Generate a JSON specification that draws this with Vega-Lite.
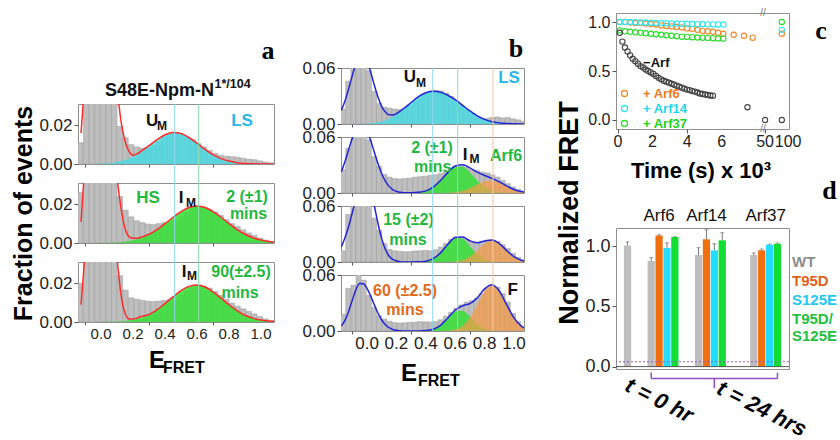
{
"$schema":"https://vega.github.io/schema/vega-lite/v6.json",
"background":"white",
"padding":{"left":11,"top":7,"right":0,"bottom":0},
"autosize":{"type":"pad"},
"config":{"font":"Liberation Sans","view":{"stroke":"#8f8f8f","strokeWidth":1},"axis":{"grid":false,"domain":false,"labelColor":"#222","tickColor":"#555","labelPadding":2,"titleColor":"#000"}},
"datasets":{
"hist":[
{"x0":-0.18,"x1":-0.145,"a1":0,"a2":0,"a3":0,"b1":0.016,"b2":0.025,"b3":0.012,"b4":0.018},
{"x0":-0.145,"x1":-0.11,"a1":0.011,"a2":0.026,"a3":0.02,"b1":0.046,"b2":0.048,"b3":0.051,"b4":0.0455},
{"x0":-0.11,"x1":-0.075,"a1":0.045,"a2":0.05,"a3":0.05,"b1":0.07,"b2":0.07,"b3":0.075,"b4":0.049},
{"x0":-0.075,"x1":-0.04,"a1":0.07,"a2":0.08,"a3":0.08,"b1":0.08,"b2":0.085,"b3":0.09,"b4":0.062},
{"x0":-0.04,"x1":-0.005,"a1":0.08,"a2":0.09,"a3":0.09,"b1":0.075,"b2":0.08,"b3":0.095,"b4":0.0545},
{"x0":-0.005,"x1":0.03,"a1":0.075,"a2":0.085,"a3":0.08,"b1":0.057,"b2":0.057,"b3":0.085,"b4":0.038},
{"x0":0.03,"x1":0.065,"a1":0.06,"a2":0.06,"a3":0.06,"b1":0.035,"b2":0.039,"b3":0.047,"b4":0.0254},
{"x0":0.065,"x1":0.1,"a1":0.04,"a2":0.04,"a3":0.04,"b1":0.022,"b2":0.0285,"b3":0.034,"b4":0.0164},
{"x0":0.1,"x1":0.135,"a1":0.0195,"a2":0.024,"a3":0.024,"b1":0.018,"b2":0.02,"b3":0.02,"b4":0.0128},
{"x0":0.135,"x1":0.17,"a1":0.0135,"a2":0.017,"a3":0.0165,"b1":0.017,"b2":0.017,"b3":0.0135,"b4":0.0105},
{"x0":0.17,"x1":0.205,"a1":0.01,"a2":0.0135,"a3":0.0125,"b1":0.016,"b2":0.0155,"b3":0.012,"b4":0.009},
{"x0":0.205,"x1":0.24,"a1":0.0088,"a2":0.0115,"a3":0.0118,"b1":0.0155,"b2":0.015,"b3":0.0115,"b4":0.0085},
{"x0":0.24,"x1":0.275,"a1":0.0082,"a2":0.0105,"a3":0.0112,"b1":0.017,"b2":0.0155,"b3":0.011,"b4":0.0088},
{"x0":0.275,"x1":0.31,"a1":0.0085,"a2":0.0098,"a3":0.0108,"b1":0.02,"b2":0.016,"b3":0.0112,"b4":0.0092},
{"x0":0.31,"x1":0.345,"a1":0.0095,"a2":0.0095,"a3":0.0106,"b1":0.024,"b2":0.017,"b3":0.0118,"b4":0.0095},
{"x0":0.345,"x1":0.38,"a1":0.0115,"a2":0.01,"a3":0.0108,"b1":0.028,"b2":0.0175,"b3":0.012,"b4":0.01},
{"x0":0.38,"x1":0.415,"a1":0.014,"a2":0.0105,"a3":0.0112,"b1":0.032,"b2":0.018,"b3":0.0125,"b4":0.0098},
{"x0":0.415,"x1":0.45,"a1":0.0155,"a2":0.0112,"a3":0.0118,"b1":0.0345,"b2":0.019,"b3":0.012,"b4":0.0095},
{"x0":0.45,"x1":0.485,"a1":0.0158,"a2":0.012,"a3":0.0125,"b1":0.036,"b2":0.0195,"b3":0.013,"b4":0.01},
{"x0":0.485,"x1":0.52,"a1":0.015,"a2":0.0135,"a3":0.014,"b1":0.0355,"b2":0.021,"b3":0.016,"b4":0.012},
{"x0":0.52,"x1":0.555,"a1":0.0138,"a2":0.016,"a3":0.016,"b1":0.033,"b2":0.023,"b3":0.02,"b4":0.016},
{"x0":0.555,"x1":0.59,"a1":0.0125,"a2":0.0178,"a3":0.0178,"b1":0.0295,"b2":0.0265,"b3":0.024,"b4":0.02},
{"x0":0.59,"x1":0.625,"a1":0.0105,"a2":0.0185,"a3":0.0188,"b1":0.025,"b2":0.0285,"b3":0.027,"b4":0.0245},
{"x0":0.625,"x1":0.66,"a1":0.0088,"a2":0.0185,"a3":0.0185,"b1":0.02,"b2":0.029,"b3":0.0265,"b4":0.028},
{"x0":0.66,"x1":0.695,"a1":0.007,"a2":0.0175,"a3":0.0175,"b1":0.0155,"b2":0.0275,"b3":0.024,"b4":0.031},
{"x0":0.695,"x1":0.73,"a1":0.0055,"a2":0.016,"a3":0.0158,"b1":0.011,"b2":0.025,"b3":0.0215,"b4":0.0325},
{"x0":0.73,"x1":0.765,"a1":0.0045,"a2":0.0142,"a3":0.0138,"b1":0.0075,"b2":0.024,"b3":0.021,"b4":0.035},
{"x0":0.765,"x1":0.8,"a1":0.004,"a2":0.012,"a3":0.0118,"b1":0.005,"b2":0.0225,"b3":0.022,"b4":0.04},
{"x0":0.8,"x1":0.835,"a1":0.0038,"a2":0.01,"a3":0.0098,"b1":0.006,"b2":0.0215,"b3":0.0235,"b4":0.046},
{"x0":0.835,"x1":0.87,"a1":0.0035,"a2":0.0085,"a3":0.0082,"b1":0.007,"b2":0.0195,"b3":0.0235,"b4":0.049},
{"x0":0.87,"x1":0.905,"a1":0.003,"a2":0.0068,"a3":0.0068,"b1":0.0075,"b2":0.017,"b3":0.022,"b4":0.047},
{"x0":0.905,"x1":0.94,"a1":0.0025,"a2":0.0052,"a3":0.0055,"b1":0.0065,"b2":0.0135,"b3":0.0185,"b4":0.04},
{"x0":0.94,"x1":0.975,"a1":0.0022,"a2":0.004,"a3":0.0042,"b1":0.007,"b2":0.01,"b3":0.0145,"b4":0.031},
{"x0":0.975,"x1":1.01,"a1":0.0016,"a2":0.0026,"a3":0.0028,"b1":0.0055,"b2":0.0065,"b3":0.0095,"b4":0.019},
{"x0":1.01,"x1":1.045,"a1":0.001,"a2":0.0015,"a3":0.0016,"b1":0.0045,"b2":0.004,"b3":0.005,"b4":0.01},
{"x0":1.045,"x1":1.08,"a1":0.0006,"a2":0.0008,"a3":0.0008,"b1":0.003,"b2":0.002,"b3":0.002,"b4":0.004}
],
"fit":[
{"x":-0.175,"ra1":null,"ca1":0,"ra2":null,"ga2":0,"ra3":null,"ga3":0,"bb1":0.0145,"cb1":0,"bb2":0.0226,"gb2":0,"ob2":0,"bb3":0.016,"gb3":0,"ob3":0,"bb4":0.0053,"gb4":0,"ob4":0},
{"x":-0.15,"ra1":null,"ca1":0,"ra2":null,"ga2":0,"ra3":null,"ga3":0,"bb1":0.0246,"cb1":0,"bb2":0.0337,"gb2":0,"ob2":0,"bb3":0.026,"gb3":0,"ob3":0,"bb4":0.0114,"gb4":0,"ob4":0},
{"x":-0.125,"ra1":0.016,"ca1":0,"ra2":0.011,"ga2":0,"ra3":0.009,"ga3":0,"bb1":0.0377,"cb1":0,"bb2":0.0463,"gb2":0,"ob2":0,"bb3":0.038,"gb3":0,"ob3":0,"bb4":0.021,"gb4":0,"ob4":0},
{"x":-0.1,"ra1":0.045,"ca1":0,"ra2":0.042,"ga2":0,"ra3":0.036,"ga3":0,"bb1":0.052,"cb1":0,"bb2":0.0586,"gb2":0,"ob2":0,"bb3":0.053,"gb3":0,"ob3":0,"bb4":0.0332,"gb4":0,"ob4":0},
{"x":-0.075,"ra1":0.075,"ca1":0,"ra2":0.08,"ga2":0,"ra3":0.07,"ga3":0,"bb1":0.0648,"cb1":0,"bb2":0.0684,"gb2":0,"ob2":0,"bb3":0.068,"gb3":0,"ob3":0,"bb4":0.0445,"gb4":0,"ob4":0},
{"x":-0.05,"ra1":0.09,"ca1":0,"ra2":0.1,"ga2":0,"ra3":0.09,"ga3":0,"bb1":0.0726,"cb1":0.0001,"bb2":0.0736,"gb2":0,"ob2":0,"bb3":0.084,"gb3":0,"ob3":0,"bb4":0.051,"gb4":0,"ob4":0},
{"x":-0.025,"ra1":0.1,"ca1":0.0001,"ra2":0.12,"ga2":0,"ra3":0.1,"ga3":0,"bb1":0.0734,"cb1":0.0002,"bb2":0.073,"gb2":0,"ob2":0,"bb3":0.093,"gb3":0,"ob3":0,"bb4":0.0506,"gb4":0,"ob4":0},
{"x":0,"ra1":0.1,"ca1":0.0002,"ra2":0.12,"ga2":0.0001,"ra3":0.1,"ga3":0,"bb1":0.0673,"cb1":0.0005,"bb2":0.0668,"gb2":0,"ob2":0,"bb3":0.09,"gb3":0,"ob3":0,"bb4":0.0456,"gb4":0,"ob4":0},
{"x":0.025,"ra1":0.095,"ca1":0.0003,"ra2":0.1,"ga2":0.0001,"ra3":0.09,"ga3":0.0001,"bb1":0.0555,"cb1":0.0007,"bb2":0.0563,"gb2":0,"ob2":0,"bb3":0.078,"gb3":0,"ob3":0,"bb4":0.0374,"gb4":0,"ob4":0},
{"x":0.05,"ra1":0.085,"ca1":0.0005,"ra2":0.08,"ga2":0.0001,"ra3":0.075,"ga3":0.0001,"bb1":0.0415,"cb1":0.001,"bb2":0.0437,"gb2":0,"ob2":0,"bb3":0.06,"gb3":0,"ob3":0,"bb4":0.028,"gb4":0,"ob4":0},
{"x":0.075,"ra1":0.065,"ca1":0.0007,"ra2":0.06,"ga2":0.0002,"ra3":0.055,"ga3":0.0001,"bb1":0.0287,"cb1":0.0016,"bb2":0.0313,"gb2":0,"ob2":0,"bb3":0.041,"gb3":0,"ob3":0,"bb4":0.019,"gb4":0,"ob4":0},
{"x":0.1,"ra1":0.04,"ca1":0.001,"ra2":0.034,"ga2":0.0003,"ra3":0.033,"ga3":0.0002,"bb1":0.0187,"cb1":0.0025,"bb2":0.0207,"gb2":0,"ob2":0,"bb3":0.025,"gb3":0,"ob3":0,"bb4":0.0118,"gb4":0,"ob4":0},
{"x":0.125,"ra1":0.022,"ca1":0.0015,"ra2":0.018,"ga2":0.0005,"ra3":0.014,"ga3":0.0003,"bb1":0.0128,"cb1":0.0039,"bb2":0.0126,"gb2":0,"ob2":0,"bb3":0.0134,"gb3":0,"ob3":0,"bb4":0.0067,"gb4":0,"ob4":0},
{"x":0.15,"ra1":0.0118,"ca1":0.0021,"ra2":0.0075,"ga2":0.0007,"ra3":0.0045,"ga3":0.0005,"bb1":0.0098,"cb1":0.0055,"bb2":0.0071,"gb2":0,"ob2":0,"bb3":0.0064,"gb3":0,"ob3":0,"bb4":0.0035,"gb4":0,"ob4":0},
{"x":0.175,"ra1":0.0065,"ca1":0.0029,"ra2":0.0033,"ga2":0.001,"ra3":0.0016,"ga3":0.0008,"bb1":0.0097,"cb1":0.0078,"bb2":0.0037,"gb2":0,"ob2":0,"bb3":0.0027,"gb3":0,"ob3":0,"bb4":0.0016,"gb4":0,"ob4":0},
{"x":0.2,"ra1":0.0045,"ca1":0.0038,"ra2":0.0024,"ga2":0.0014,"ra3":0.0015,"ga3":0.0011,"bb1":0.0112,"cb1":0.0105,"bb2":0.0017,"gb2":0,"ob2":0,"bb3":0.001,"gb3":0,"ob3":0,"bb4":0.0007,"gb4":0,"ob4":0},
{"x":0.225,"ra1":0.0052,"ca1":0.005,"ra2":0.0025,"ga2":0.002,"ra3":0.0021,"ga3":0.0016,"bb1":0.0138,"cb1":0.0135,"bb2":0.0008,"gb2":0,"ob2":0,"bb3":0.0003,"gb3":0,"ob3":0,"bb4":0.0003,"gb4":0,"ob4":0},
{"x":0.25,"ra1":0.0066,"ca1":0.0063,"ra2":0.003,"ga2":0.0026,"ra3":0.0028,"ga3":0.0021,"bb1":0.0166,"cb1":0.0165,"bb2":0.0003,"gb2":0,"ob2":0,"bb3":0.0001,"gb3":0,"ob3":0,"bb4":0.0001,"gb4":0,"ob4":0},
{"x":0.3,"ra1":0.0095,"ca1":0.0094,"ra2":0.0045,"ga2":0.0044,"ra3":0.0039,"ga3":0.0038,"bb1":0.023,"cb1":0.023,"bb2":0.0002,"gb2":0.0002,"ob2":0,"bb3":0.0001,"gb3":0,"ob3":0,"bb4":0.0001,"gb4":0,"ob4":0},
{"x":0.35,"ra1":0.0126,"ca1":0.0125,"ra2":0.0069,"ga2":0.0068,"ra3":0.0064,"ga3":0.0063,"bb1":0.0292,"cb1":0.0292,"bb2":0.0007,"gb2":0.0007,"ob2":0,"bb3":0.0002,"gb3":0.0002,"ob3":0,"bb4":0.0001,"gb4":0.0001,"ob4":0},
{"x":0.4,"ra1":0.0151,"ca1":0.015,"ra2":0.01,"ga2":0.0099,"ra3":0.0096,"ga3":0.0095,"bb1":0.0335,"cb1":0.0335,"bb2":0.0023,"gb2":0.0023,"ob2":0,"bb3":0.0009,"gb3":0.0009,"ob3":0,"bb4":0.0005,"gb4":0.0004,"ob4":0},
{"x":0.45,"ra1":0.0163,"ca1":0.0162,"ra2":0.0133,"ga2":0.0132,"ra3":0.013,"ga3":0.0129,"bb1":0.035,"cb1":0.035,"bb2":0.0063,"gb2":0.0063,"ob2":0,"bb3":0.0036,"gb3":0.0036,"ob3":0,"bb4":0.0019,"gb4":0.0018,"ob4":0},
{"x":0.5,"ra1":0.0158,"ca1":0.0157,"ra2":0.0162,"ga2":0.0161,"ra3":0.0162,"ga3":0.0161,"bb1":0.034,"cb1":0.034,"bb2":0.0133,"gb2":0.0133,"ob2":0,"bb3":0.0098,"gb3":0.0098,"ob3":0,"bb4":0.0061,"gb4":0.006,"ob4":0.0001},
{"x":0.55,"ra1":0.0137,"ca1":0.0136,"ra2":0.0183,"ga2":0.0182,"ra3":0.0184,"ga3":0.0183,"bb1":0.0308,"cb1":0.0308,"bb2":0.0221,"gb2":0.0219,"ob2":0.0002,"bb3":0.019,"gb3":0.0189,"ob3":0.0001,"bb4":0.014,"gb4":0.0137,"ob4":0.0003},
{"x":0.6,"ra1":0.0108,"ca1":0.0107,"ra2":0.0191,"ga2":0.019,"ra3":0.0191,"ga3":0.019,"bb1":0.026,"cb1":0.026,"bb2":0.0289,"gb2":0.0281,"ob2":0.0008,"bb3":0.0263,"gb3":0.0258,"ob3":0.0005,"bb4":0.0225,"gb4":0.021,"ob4":0.0015},
{"x":0.65,"ra1":0.0076,"ca1":0.0075,"ra2":0.0183,"ga2":0.0182,"ra3":0.0181,"ga3":0.018,"bb1":0.02,"cb1":0.02,"bb2":0.0303,"gb2":0.0281,"ob2":0.0022,"bb3":0.0268,"gb3":0.0249,"ob3":0.0019,"bb4":0.0271,"gb4":0.0218,"ob4":0.0053},
{"x":0.7,"ra1":0.0048,"ca1":0.0047,"ra2":0.0162,"ga2":0.0161,"ra3":0.0156,"ga3":0.0155,"bb1":0.014,"cb1":0.014,"bb2":0.027,"gb2":0.0219,"ob2":0.0051,"bb3":0.0227,"gb3":0.017,"ob3":0.0057,"bb4":0.0294,"gb4":0.0153,"ob4":0.0141},
{"x":0.75,"ra1":0.0028,"ca1":0.0027,"ra2":0.0133,"ga2":0.0132,"ra3":0.0123,"ga3":0.0122,"bb1":0.0088,"cb1":0.0088,"bb2":0.0223,"gb2":0.0133,"ob2":0.009,"bb3":0.0206,"gb3":0.0082,"ob3":0.0124,"bb4":0.0355,"gb4":0.0073,"ob4":0.0282},
{"x":0.8,"ra1":0.0015,"ca1":0.0014,"ra2":0.01,"ga2":0.0099,"ra3":0.0089,"ga3":0.0088,"bb1":0.005,"cb1":0.005,"bb2":0.0188,"gb2":0.0063,"ob2":0.0125,"bb3":0.0225,"gb3":0.0028,"ob3":0.0197,"bb4":0.0451,"gb4":0.0024,"ob4":0.0427},
{"x":0.85,"ra1":0.0007,"ca1":0.0006,"ra2":0.0069,"ga2":0.0068,"ra3":0.0059,"ga3":0.0058,"bb1":0.0025,"cb1":0.0025,"bb2":0.0157,"gb2":0.0023,"ob2":0.0134,"bb3":0.0237,"gb3":0.0007,"ob3":0.023,"bb4":0.0495,"gb4":0.0005,"ob4":0.049},
{"x":0.9,"ra1":0.0003,"ca1":0.0003,"ra2":0.0045,"ga2":0.0044,"ra3":0.0035,"ga3":0.0034,"bb1":0.0012,"cb1":0.0012,"bb2":0.012,"gb2":0.0007,"ob2":0.0113,"bb3":0.0198,"gb3":0.0001,"ob3":0.0197,"bb4":0.0428,"gb4":0.0001,"ob4":0.0427},
{"x":0.95,"ra1":0.0001,"ca1":0.0001,"ra2":0.0027,"ga2":0.0026,"ra3":0.002,"ga3":0.0019,"bb1":0.0005,"cb1":0.0005,"bb2":0.0076,"gb2":0.0002,"ob2":0.0074,"bb3":0.0124,"gb3":0,"ob3":0.0124,"bb4":0.0282,"gb4":0,"ob4":0.0282},
{"x":1.0,"ra1":0,"ca1":0,"ra2":0.0015,"ga2":0.0014,"ra3":0.001,"ga3":0.0009,"bb1":0.0002,"cb1":0.0002,"bb2":0.0038,"gb2":0,"ob2":0.0038,"bb3":0.0057,"gb3":0,"ob3":0.0057,"bb4":0.0141,"gb4":0,"ob4":0.0141},
{"x":1.05,"ra1":0,"ca1":0,"ra2":0.0008,"ga2":0.0007,"ra3":0.0005,"ga3":0.0004,"bb1":0,"cb1":0,"bb2":0.0015,"gb2":0,"ob2":0.0015,"bb3":0.0019,"gb3":0,"ob3":0.0019,"bb4":0.0053,"gb4":0,"ob4":0.0053},
{"x":1.1,"ra1":0,"ca1":0,"ra2":0.0004,"ga2":0.0003,"ra3":0.0002,"ga3":0.0002,"bb1":0,"cb1":0,"bb2":0.0005,"gb2":0,"ob2":0.0005,"bb3":0.0005,"gb3":0,"ob3":0.0005,"bb4":0.0015,"gb4":0,"ob4":0.0015}
],
"frap":[
{"s":"+ Arf6","t":0.1,"y":1.0},{"s":"+ Arf6","t":0.4,"y":1.0},{"s":"+ Arf6","t":0.7,"y":0.995},{"s":"+ Arf6","t":1.0,"y":0.99},{"s":"+ Arf6","t":1.3,"y":0.99},{"s":"+ Arf6","t":1.6,"y":0.985},{"s":"+ Arf6","t":1.9,"y":0.98},{"s":"+ Arf6","t":2.2,"y":0.975},{"s":"+ Arf6","t":2.5,"y":0.965},{"s":"+ Arf6","t":2.8,"y":0.96},{"s":"+ Arf6","t":3.1,"y":0.955},{"s":"+ Arf6","t":3.4,"y":0.95},{"s":"+ Arf6","t":3.7,"y":0.945},{"s":"+ Arf6","t":4.0,"y":0.935},{"s":"+ Arf6","t":4.3,"y":0.93},{"s":"+ Arf6","t":4.6,"y":0.92},{"s":"+ Arf6","t":4.9,"y":0.91},{"s":"+ Arf6","t":5.2,"y":0.905},{"s":"+ Arf6","t":5.5,"y":0.9},{"s":"+ Arf6","t":5.8,"y":0.89},{"s":"+ Arf6","t":6.1,"y":0.88},{"s":"+ Arf6","t":6.7,"y":0.87},{"s":"+ Arf6","t":7.3,"y":0.86},{"s":"+ Arf6","t":7.8,"y":0.84},{"s":"+ Arf6","t":86.4,"y":0.88},
{"s":"+ Arf14","t":0.1,"y":1.0},{"s":"+ Arf14","t":0.4,"y":1.0},{"s":"+ Arf14","t":0.7,"y":1.0},{"s":"+ Arf14","t":1.0,"y":0.998},{"s":"+ Arf14","t":1.3,"y":0.996},{"s":"+ Arf14","t":1.6,"y":0.995},{"s":"+ Arf14","t":1.9,"y":0.993},{"s":"+ Arf14","t":2.2,"y":0.99},{"s":"+ Arf14","t":2.5,"y":0.99},{"s":"+ Arf14","t":2.8,"y":0.988},{"s":"+ Arf14","t":3.1,"y":0.986},{"s":"+ Arf14","t":3.4,"y":0.985},{"s":"+ Arf14","t":3.7,"y":0.983},{"s":"+ Arf14","t":4.0,"y":0.982},{"s":"+ Arf14","t":4.3,"y":0.98},{"s":"+ Arf14","t":4.6,"y":0.978},{"s":"+ Arf14","t":4.9,"y":0.977},{"s":"+ Arf14","t":5.2,"y":0.976},{"s":"+ Arf14","t":5.5,"y":0.975},{"s":"+ Arf14","t":5.8,"y":0.975},{"s":"+ Arf14","t":6.1,"y":0.974},{"s":"+ Arf14","t":86.4,"y":0.92},
{"s":"+ Arf37","t":0.1,"y":0.915},{"s":"+ Arf37","t":0.4,"y":0.905},{"s":"+ Arf37","t":0.7,"y":0.9},{"s":"+ Arf37","t":1.0,"y":0.895},{"s":"+ Arf37","t":1.3,"y":0.89},{"s":"+ Arf37","t":1.6,"y":0.885},{"s":"+ Arf37","t":1.9,"y":0.88},{"s":"+ Arf37","t":2.2,"y":0.875},{"s":"+ Arf37","t":2.5,"y":0.87},{"s":"+ Arf37","t":2.8,"y":0.865},{"s":"+ Arf37","t":3.1,"y":0.86},{"s":"+ Arf37","t":3.4,"y":0.855},{"s":"+ Arf37","t":3.7,"y":0.85},{"s":"+ Arf37","t":4.0,"y":0.848},{"s":"+ Arf37","t":4.3,"y":0.845},{"s":"+ Arf37","t":4.6,"y":0.842},{"s":"+ Arf37","t":4.9,"y":0.84},{"s":"+ Arf37","t":5.2,"y":0.838},{"s":"+ Arf37","t":5.5,"y":0.835},{"s":"+ Arf37","t":5.8,"y":0.832},{"s":"+ Arf37","t":6.1,"y":0.83},{"s":"+ Arf37","t":86.4,"y":1.0},
{"s":"-Arf","t":0.1,"y":0.89},{"s":"-Arf","t":0.25,"y":0.8},{"s":"-Arf","t":0.4,"y":0.74},{"s":"-Arf","t":0.55,"y":0.7},{"s":"-Arf","t":0.7,"y":0.66},{"s":"-Arf","t":0.85,"y":0.625},{"s":"-Arf","t":1.0,"y":0.6},{"s":"-Arf","t":1.15,"y":0.575},{"s":"-Arf","t":1.3,"y":0.55},{"s":"-Arf","t":1.45,"y":0.535},{"s":"-Arf","t":1.6,"y":0.515},{"s":"-Arf","t":1.75,"y":0.5},{"s":"-Arf","t":1.9,"y":0.485},{"s":"-Arf","t":2.05,"y":0.47},{"s":"-Arf","t":2.2,"y":0.45},{"s":"-Arf","t":2.35,"y":0.43},{"s":"-Arf","t":2.5,"y":0.415},{"s":"-Arf","t":2.65,"y":0.4},{"s":"-Arf","t":2.8,"y":0.39},{"s":"-Arf","t":2.95,"y":0.38},{"s":"-Arf","t":3.1,"y":0.37},{"s":"-Arf","t":3.25,"y":0.36},{"s":"-Arf","t":3.4,"y":0.35},{"s":"-Arf","t":3.55,"y":0.34},{"s":"-Arf","t":3.7,"y":0.33},{"s":"-Arf","t":3.85,"y":0.32},{"s":"-Arf","t":4.0,"y":0.31},{"s":"-Arf","t":4.15,"y":0.305},{"s":"-Arf","t":4.3,"y":0.295},{"s":"-Arf","t":4.45,"y":0.29},{"s":"-Arf","t":4.6,"y":0.28},{"s":"-Arf","t":4.75,"y":0.27},{"s":"-Arf","t":4.9,"y":0.265},{"s":"-Arf","t":5.05,"y":0.26},{"s":"-Arf","t":5.2,"y":0.255},{"s":"-Arf","t":5.35,"y":0.25},{"s":"-Arf","t":5.5,"y":0.248},{"s":"-Arf","t":7.5,"y":0.13},{"s":"-Arf","t":50,"y":0.0},{"s":"-Arf","t":86.4,"y":0.0}
],
"bars":[
{"slot":"t0 WT","variant":"WT","v":1.005,"hi":1.035},
{"slot":"Arf6 WT","variant":"WT","v":0.876,"hi":0.904},
{"slot":"Arf6 T95D","variant":"T95D","v":1.088,"hi":1.094},
{"slot":"Arf6 S125E","variant":"S125E","v":0.985,"hi":1.027},
{"slot":"Arf6 T95D/S125E","variant":"T95D/S125E","v":1.075,"hi":1.078},
{"slot":"Arf14 WT","variant":"WT","v":0.926,"hi":0.987},
{"slot":"Arf14 T95D","variant":"T95D","v":1.056,"hi":1.136},
{"slot":"Arf14 S125E","variant":"S125E","v":0.965,"hi":1.02},
{"slot":"Arf14 T95D/S125E","variant":"T95D/S125E","v":1.048,"hi":1.111},
{"slot":"Arf37 WT","variant":"WT","v":0.926,"hi":0.943},
{"slot":"Arf37 T95D","variant":"T95D","v":0.965,"hi":0.976},
{"slot":"Arf37 S125E","variant":"S125E","v":1.012,"hi":1.017},
{"slot":"Arf37 T95D/S125E","variant":"T95D/S125E","v":1.02,"hi":1.026}
],
"etick":[{"v":0},{"v":0.2},{"v":0.4},{"v":0.6},{"v":0.8},{"v":1}],
"ttick":[{"v":0},{"v":2},{"v":4},{"v":6},{"v":50},{"v":100}]
},
"bounds":"flush",
"spacing":263,
"hconcat":[
{"bounds":"flush","spacing":21,"vconcat":[
 {"width":196,"height":70,"view":{"stroke":null},"layer":[
  {"data":{"values":[{}]},"mark":{"type":"text","text":"a","font":"Liberation Serif","fontSize":26,"fontWeight":"bold","color":"#000"},"encoding":{"x":{"datum":190,"scale":{"domain":[0,196],"nice":false,"zero":false},"axis":null},"y":{"datum":32,"scale":{"domain":[0,70],"nice":false,"zero":false},"axis":null}}},
  {"data":{"values":[{}]},"mark":{"type":"text","text":"S48E-Npm-N","fontSize":18,"fontWeight":"bold","align":"right","baseline":"alphabetic","color":"#111"},"encoding":{"x":{"datum":136,"axis":null},"y":{"datum":-12.5,"axis":null}}},
  {"data":{"values":[{}]},"mark":{"type":"text","text":"1*/104","fontSize":12.5,"fontWeight":"bold","align":"left","baseline":"alphabetic","color":"#111"},"encoding":{"x":{"datum":136.5,"axis":null},"y":{"datum":-4.5,"axis":null}}}
 ]},
 {"bounds":"flush","spacing":19,"vconcat":[
  {"width":196,"height":60,"layer":[
   {"data":{"name":"hist"},"mark":{"type":"rect","clip":true,"fill":"#bebebe","stroke":"#9a9a9a","strokeWidth":0.5},"encoding":{"x":{"field":"x0","type":"quantitative","scale":{"domain":[-0.144,1.081],"nice":false,"zero":false},"axis":{"title":null,"values":[-0.1,0,0.1,0.2,0.3,0.4,0.5,0.6,0.7,0.8,0.9,1],"labels":false,"tickSize":3}},"x2":{"field":"x1"},"y":{"field":"a1","type":"quantitative","scale":{"domain":[0,0.031],"nice":false,"zero":false},"axis":{"title":null,"values":[0,0.02],"format":".2f","labelFontSize":17,"tickSize":4}},"y2":{"datum":0}}},
   {"data":{"name":"fit"},"mark":{"type":"area","clip":true,"color":"#45dbe3","opacity":0.8,"interpolate":"monotone"},"encoding":{"x":{"field":"x","type":"quantitative"},"y":{"field":"ca1","type":"quantitative"}}},
   {"data":{"name":"fit"},"mark":{"type":"line","clip":true,"color":"#ff2b2b","strokeWidth":1.5,"interpolate":"monotone"},"encoding":{"x":{"field":"x","type":"quantitative"},"y":{"field":"ra1","type":"quantitative"}}},
   {"data":{"values":[{}]},"mark":{"type":"text","text":"U","fontSize":17,"fontWeight":"bold","color":"#111"},"encoding":{"x":{"datum":0.319},"y":{"datum":0.022}}},
   {"data":{"values":[{}]},"mark":{"type":"text","text":"M","fontSize":12,"fontWeight":"bold","color":"#111"},"encoding":{"x":{"datum":0.381},"y":{"datum":0.0194}}},
   {"data":{"values":[{}]},"mark":{"type":"text","text":"LS","fontSize":17,"fontWeight":"bold","color":"#29b6e8"},"encoding":{"x":{"datum":0.881},"y":{"datum":0.022}}}
  ]},
  {"width":196,"height":60,"layer":[
   {"data":{"name":"hist"},"mark":{"type":"rect","clip":true,"fill":"#bebebe","stroke":"#9a9a9a","strokeWidth":0.5},"encoding":{"x":{"field":"x0","type":"quantitative","scale":{"domain":[-0.144,1.081],"nice":false,"zero":false},"axis":{"title":null,"values":[-0.1,0,0.1,0.2,0.3,0.4,0.5,0.6,0.7,0.8,0.9,1],"labels":false,"tickSize":3}},"x2":{"field":"x1"},"y":{"field":"a2","type":"quantitative","scale":{"domain":[0,0.031],"nice":false,"zero":false},"axis":{"title":"Fraction of events","titleFontSize":25,"titleFontWeight":"bold","titlePadding":2,"values":[0,0.02],"format":".2f","labelFontSize":17,"tickSize":4}},"y2":{"datum":0}}},
   {"data":{"name":"fit"},"mark":{"type":"area","clip":true,"color":"#35e035","opacity":0.85,"interpolate":"monotone"},"encoding":{"x":{"field":"x","type":"quantitative"},"y":{"field":"ga2","type":"quantitative"}}},
   {"data":{"name":"fit"},"mark":{"type":"line","clip":true,"color":"#ff2b2b","strokeWidth":1.5,"interpolate":"monotone"},"encoding":{"x":{"field":"x","type":"quantitative"},"y":{"field":"ra2","type":"quantitative"}}},
   {"data":{"values":[{}]},"mark":{"type":"text","text":"HS","fontSize":17,"fontWeight":"bold","color":"#1fb83f"},"encoding":{"x":{"datum":0.294},"y":{"datum":0.023}}},
   {"data":{"values":[{}]},"mark":{"type":"text","text":"I","fontSize":17,"fontWeight":"bold","color":"#111"},"encoding":{"x":{"datum":0.5},"y":{"datum":0.023}}},
   {"data":{"values":[{}]},"mark":{"type":"text","text":"M","fontSize":12,"fontWeight":"bold","color":"#111"},"encoding":{"x":{"datum":0.5625},"y":{"datum":0.0207}}},
   {"data":{"values":[{}]},"mark":{"type":"text","text":"2 (±1)","fontSize":16,"fontWeight":"bold","color":"#1fb83f"},"encoding":{"x":{"datum":0.9125},"y":{"datum":0.0238}}},
   {"data":{"values":[{}]},"mark":{"type":"text","text":"mins","fontSize":16,"fontWeight":"bold","color":"#1fb83f"},"encoding":{"x":{"datum":0.922},"y":{"datum":0.015}}}
  ]},
  {"width":196,"height":60,"layer":[
   {"data":{"name":"hist"},"mark":{"type":"rect","clip":true,"fill":"#bebebe","stroke":"#9a9a9a","strokeWidth":0.5},"encoding":{"x":{"field":"x0","type":"quantitative","scale":{"domain":[-0.144,1.081],"nice":false,"zero":false},"axis":{"title":null,"values":[-0.1,0,0.1,0.2,0.3,0.4,0.5,0.6,0.7,0.8,0.9,1],"labels":false,"tickSize":3}},"x2":{"field":"x1"},"y":{"field":"a3","type":"quantitative","scale":{"domain":[0,0.031],"nice":false,"zero":false},"axis":{"title":null,"values":[0,0.02],"format":".2f","labelFontSize":17,"tickSize":4}},"y2":{"datum":0}}},
   {"data":{"name":"fit"},"mark":{"type":"area","clip":true,"color":"#35e035","opacity":0.85,"interpolate":"monotone"},"encoding":{"x":{"field":"x","type":"quantitative"},"y":{"field":"ga3","type":"quantitative"}}},
   {"data":{"name":"fit"},"mark":{"type":"line","clip":true,"color":"#ff2b2b","strokeWidth":1.5,"interpolate":"monotone"},"encoding":{"x":{"field":"x","type":"quantitative"},"y":{"field":"ra3","type":"quantitative"}}},
   {"data":{"name":"etick"},"mark":{"type":"text","fontSize":15,"color":"#222","baseline":"top","dy":5},"encoding":{"x":{"field":"v","type":"quantitative"},"y":{"datum":0},"text":{"field":"v","type":"quantitative","format":".1f"}}},
   {"data":{"values":[{}]},"mark":{"type":"text","text":"I","fontSize":17,"fontWeight":"bold","color":"#111"},"encoding":{"x":{"datum":0.519},"y":{"datum":0.0258}}},
   {"data":{"values":[{}]},"mark":{"type":"text","text":"M","fontSize":12,"fontWeight":"bold","color":"#111"},"encoding":{"x":{"datum":0.569},"y":{"datum":0.0236}}},
   {"data":{"values":[{}]},"mark":{"type":"text","text":"90(±2.5)","fontSize":16,"fontWeight":"bold","color":"#1fb83f"},"encoding":{"x":{"datum":0.875},"y":{"datum":0.0256}}},
   {"data":{"values":[{}]},"mark":{"type":"text","text":"mins","fontSize":16,"fontWeight":"bold","color":"#1fb83f"},"encoding":{"x":{"datum":0.869},"y":{"datum":0.0152}}},
   {"data":{"values":[{}]},"mark":{"type":"rule","color":"#8fd8f0","strokeWidth":1},"encoding":{"x":{"datum":0.46},"y":{"datum":0},"y2":{"datum":0.1126}}},
   {"data":{"values":[{}]},"mark":{"type":"rule","color":"#8fdcae","strokeWidth":1},"encoding":{"x":{"datum":0.61},"y":{"datum":0},"y2":{"datum":0.1126}}},
   {"data":{"values":[{}]},"mark":{"type":"text","text":"E","fontSize":24,"fontWeight":"bold","align":"left","baseline":"alphabetic","dy":46,"color":"#000"},"encoding":{"x":{"datum":0.3},"y":{"datum":0}}},
   {"data":{"values":[{}]},"mark":{"type":"text","text":"FRET","fontSize":16,"fontWeight":"bold","align":"left","baseline":"alphabetic","dy":51,"color":"#000"},"encoding":{"x":{"datum":0.3875},"y":{"datum":0}}}
  ]}
 ]}
]},
{"bounds":"flush","spacing":275,"hconcat":[
 {"bounds":"flush","spacing":15,"vconcat":[
  {"width":183,"height":40,"view":{"stroke":null},"layer":[
   {"data":{"values":[{}]},"mark":{"type":"text","text":"b","font":"Liberation Serif","fontSize":26,"fontWeight":"bold","color":"#000"},"encoding":{"x":{"datum":175,"scale":{"domain":[0,183],"nice":false,"zero":false},"axis":null},"y":{"datum":4,"scale":{"domain":[0,40],"nice":false,"zero":false},"axis":null}}}
  ]},
  {"bounds":"flush","spacing":13,"vconcat":[
   {"width":183,"height":56,"layer":[
    {"data":{"name":"hist"},"mark":{"type":"rect","clip":true,"fill":"#bebebe","stroke":"#9a9a9a","strokeWidth":0.5},"encoding":{"x":{"field":"x0","type":"quantitative","scale":{"domain":[-0.177,1.068],"nice":false,"zero":false},"axis":{"title":null,"values":[-0.1,0,0.1,0.2,0.3,0.4,0.5,0.6,0.7,0.8,0.9,1],"labels":false,"tickSize":3}},"x2":{"field":"x1"},"y":{"field":"b1","type":"quantitative","scale":{"domain":[0,0.06],"nice":false,"zero":false},"axis":{"title":null,"values":[0,0.06],"format":".2f","labelFontSize":17,"tickSize":4}},"y2":{"datum":0}}},
    {"data":{"name":"fit"},"mark":{"type":"area","clip":true,"color":"#45dbe3","opacity":0.8,"interpolate":"monotone"},"encoding":{"x":{"field":"x","type":"quantitative"},"y":{"field":"cb1","type":"quantitative"}}},
    {"data":{"name":"fit"},"mark":{"type":"line","clip":true,"color":"#2424d8","strokeWidth":1.5,"interpolate":"monotone"},"encoding":{"x":{"field":"x","type":"quantitative"},"y":{"field":"bb1","type":"quantitative"}}},
    {"data":{"values":[{}]},"mark":{"type":"text","text":"U","fontSize":17,"fontWeight":"bold","color":"#111"},"encoding":{"x":{"datum":0.2925},"y":{"datum":0.0504}}},
    {"data":{"values":[{}]},"mark":{"type":"text","text":"M","fontSize":12,"fontWeight":"bold","color":"#111"},"encoding":{"x":{"datum":0.367},"y":{"datum":0.0439}}},
    {"data":{"values":[{}]},"mark":{"type":"text","text":"LS","fontSize":17,"fontWeight":"bold","color":"#29b6e8"},"encoding":{"x":{"datum":0.966},"y":{"datum":0.0498}}}
   ]},
   {"width":183,"height":56,"layer":[
    {"data":{"name":"hist"},"mark":{"type":"rect","clip":true,"fill":"#bebebe","stroke":"#9a9a9a","strokeWidth":0.5},"encoding":{"x":{"field":"x0","type":"quantitative","scale":{"domain":[-0.177,1.068],"nice":false,"zero":false},"axis":{"title":null,"values":[-0.1,0,0.1,0.2,0.3,0.4,0.5,0.6,0.7,0.8,0.9,1],"labels":false,"tickSize":3}},"x2":{"field":"x1"},"y":{"field":"b2","type":"quantitative","scale":{"domain":[0,0.06],"nice":false,"zero":false},"axis":{"title":null,"values":[0,0.06],"format":".2f","labelFontSize":17,"tickSize":4}},"y2":{"datum":0}}},
    {"data":{"name":"fit"},"mark":{"type":"area","clip":true,"color":"#35e035","opacity":0.85,"interpolate":"monotone"},"encoding":{"x":{"field":"x","type":"quantitative"},"y":{"field":"gb2","type":"quantitative"}}},
    {"data":{"name":"fit"},"mark":{"type":"area","clip":true,"color":"#f39c4a","opacity":0.75,"interpolate":"monotone"},"encoding":{"x":{"field":"x","type":"quantitative"},"y":{"field":"ob2","type":"quantitative"}}},
    {"data":{"name":"fit"},"mark":{"type":"line","clip":true,"color":"#2424d8","strokeWidth":1.5,"interpolate":"monotone"},"encoding":{"x":{"field":"x","type":"quantitative"},"y":{"field":"bb2","type":"quantitative"}}},
    {"data":{"values":[{}]},"mark":{"type":"text","text":"2 (±1)","fontSize":16,"fontWeight":"bold","color":"#1fb83f"},"encoding":{"x":{"datum":0.442},"y":{"datum":0.0477}}},
    {"data":{"values":[{}]},"mark":{"type":"text","text":"mins","fontSize":16,"fontWeight":"bold","color":"#1fb83f"},"encoding":{"x":{"datum":0.447},"y":{"datum":0.0279}}},
    {"data":{"values":[{}]},"mark":{"type":"text","text":"I","fontSize":17,"fontWeight":"bold","color":"#111"},"encoding":{"x":{"datum":0.667},"y":{"datum":0.0407}}},
    {"data":{"values":[{}]},"mark":{"type":"text","text":"M","fontSize":12,"fontWeight":"bold","color":"#111"},"encoding":{"x":{"datum":0.731},"y":{"datum":0.0359}}},
    {"data":{"values":[{}]},"mark":{"type":"text","text":"Arf6","fontSize":16,"fontWeight":"bold","color":"#1fb83f"},"encoding":{"x":{"datum":0.946},"y":{"datum":0.0396}}}
   ]},
   {"width":183,"height":56,"layer":[
    {"data":{"name":"hist"},"mark":{"type":"rect","clip":true,"fill":"#bebebe","stroke":"#9a9a9a","strokeWidth":0.5},"encoding":{"x":{"field":"x0","type":"quantitative","scale":{"domain":[-0.177,1.068],"nice":false,"zero":false},"axis":{"title":null,"values":[-0.1,0,0.1,0.2,0.3,0.4,0.5,0.6,0.7,0.8,0.9,1],"labels":false,"tickSize":3}},"x2":{"field":"x1"},"y":{"field":"b3","type":"quantitative","scale":{"domain":[0,0.06],"nice":false,"zero":false},"axis":{"title":null,"values":[0,0.06],"format":".2f","labelFontSize":17,"tickSize":4}},"y2":{"datum":0}}},
    {"data":{"name":"fit"},"mark":{"type":"area","clip":true,"color":"#35e035","opacity":0.85,"interpolate":"monotone"},"encoding":{"x":{"field":"x","type":"quantitative"},"y":{"field":"gb3","type":"quantitative"}}},
    {"data":{"name":"fit"},"mark":{"type":"area","clip":true,"color":"#f39c4a","opacity":0.75,"interpolate":"monotone"},"encoding":{"x":{"field":"x","type":"quantitative"},"y":{"field":"ob3","type":"quantitative"}}},
    {"data":{"name":"fit"},"mark":{"type":"line","clip":true,"color":"#2424d8","strokeWidth":1.5,"interpolate":"monotone"},"encoding":{"x":{"field":"x","type":"quantitative"},"y":{"field":"bb3","type":"quantitative"}}},
    {"data":{"values":[{}]},"mark":{"type":"text","text":"15 (±2)","fontSize":16,"fontWeight":"bold","color":"#1fb83f"},"encoding":{"x":{"datum":0.282},"y":{"datum":0.045}}},
    {"data":{"values":[{}]},"mark":{"type":"text","text":"mins","fontSize":16,"fontWeight":"bold","color":"#1fb83f"},"encoding":{"x":{"datum":0.279},"y":{"datum":0.0236}}}
   ]},
   {"width":183,"height":56,"layer":[
    {"data":{"name":"hist"},"mark":{"type":"rect","clip":true,"fill":"#bebebe","stroke":"#9a9a9a","strokeWidth":0.5},"encoding":{"x":{"field":"x0","type":"quantitative","scale":{"domain":[-0.177,1.068],"nice":false,"zero":false},"axis":{"title":null,"values":[-0.1,0,0.1,0.2,0.3,0.4,0.5,0.6,0.7,0.8,0.9,1],"labels":false,"tickSize":3}},"x2":{"field":"x1"},"y":{"field":"b4","type":"quantitative","scale":{"domain":[0,0.06],"nice":false,"zero":false},"axis":{"title":null,"values":[0,0.06],"format":".2f","labelFontSize":17,"tickSize":4}},"y2":{"datum":0}}},
    {"data":{"name":"fit"},"mark":{"type":"area","clip":true,"color":"#35e035","opacity":0.85,"interpolate":"monotone"},"encoding":{"x":{"field":"x","type":"quantitative"},"y":{"field":"gb4","type":"quantitative"}}},
    {"data":{"name":"fit"},"mark":{"type":"area","clip":true,"color":"#f39c4a","opacity":0.75,"interpolate":"monotone"},"encoding":{"x":{"field":"x","type":"quantitative"},"y":{"field":"ob4","type":"quantitative"}}},
    {"data":{"name":"fit"},"mark":{"type":"line","clip":true,"color":"#2424d8","strokeWidth":1.5,"interpolate":"monotone"},"encoding":{"x":{"field":"x","type":"quantitative"},"y":{"field":"bb4","type":"quantitative"}}},
    {"data":{"name":"etick"},"mark":{"type":"text","fontSize":17,"color":"#222","baseline":"top","dy":5},"encoding":{"x":{"field":"v","type":"quantitative"},"y":{"datum":0},"text":{"field":"v","type":"quantitative","format":".1f"}}},
    {"data":{"values":[{}]},"mark":{"type":"text","text":"60 (±2.5)","fontSize":16,"fontWeight":"bold","color":"#e2681c"},"encoding":{"x":{"datum":0.2585},"y":{"datum":0.0429}}},
    {"data":{"values":[{}]},"mark":{"type":"text","text":"mins","fontSize":16,"fontWeight":"bold","color":"#e2681c"},"encoding":{"x":{"datum":0.2585},"y":{"datum":0.023}}},
    {"data":{"values":[{}]},"mark":{"type":"text","text":"F","fontSize":17,"fontWeight":"bold","color":"#111"},"encoding":{"x":{"datum":0.991},"y":{"datum":0.0439}}},
    {"data":{"values":[{}]},"mark":{"type":"rule","color":"#8fd8f0","strokeWidth":1},"encoding":{"x":{"datum":0.447},"y":{"datum":0},"y2":{"datum":0.2818}}},
    {"data":{"values":[{}]},"mark":{"type":"rule","color":"#8fdcae","strokeWidth":1},"encoding":{"x":{"datum":0.617},"y":{"datum":0},"y2":{"datum":0.2818}}},
    {"data":{"values":[{}]},"mark":{"type":"rule","color":"#f6c7a0","strokeWidth":1},"encoding":{"x":{"datum":0.857},"y":{"datum":0},"y2":{"datum":0.2818}}},
    {"data":{"values":[{}]},"mark":{"type":"text","text":"E","fontSize":24,"fontWeight":"bold","align":"left","baseline":"alphabetic","dy":50,"color":"#000"},"encoding":{"x":{"datum":0.231},"y":{"datum":0}}},
    {"data":{"values":[{}]},"mark":{"type":"text","text":"FRET","fontSize":16,"fontWeight":"bold","align":"left","baseline":"alphabetic","dy":55,"color":"#000"},"encoding":{"x":{"datum":0.347},"y":{"datum":0}}}
   ]}
  ]}
 ]},
 {"bounds":"flush","spacing":99,"resolve":{"scale":{"color":"independent"},"legend":{"color":"independent"}},"vconcat":[
  {"width":173,"height":116,"layer":[
   {"data":{"name":"frap"},"mark":{"type":"point","filled":false,"size":28,"strokeWidth":1.1,"opacity":1},"encoding":{
     "x":{"field":"t","type":"quantitative","scale":{"domain":[-0.12,8.4,45.6,102],"range":[0,147,147,173],"nice":false,"zero":false},"axis":{"title":null,"values":[0,2,4,6,50,100],"labels":false,"tickSize":4}},
     "y":{"field":"y","type":"quantitative","scale":{"domain":[-0.092,1.092],"nice":false,"zero":false},"axis":{"title":null,"values":[0,0.5,1],"format":".1f","labelFontSize":16,"tickSize":4}},
     "color":{"field":"s","type":"nominal","scale":{"domain":["-Arf","+ Arf6","+ Arf14","+ Arf37"],"range":["#444444","#f08a2a","#2ee6f2","#2edc2e"]},"legend":{"orient":"none","legendX":2,"legendY":74,"title":null,"values":["+ Arf6","+ Arf14","+ Arf37"],"symbolType":"circle","symbolSize":36,"symbolStrokeWidth":1.3,"labelFontSize":13,"labelFontWeight":"bold","labelOffset":12,"rowPadding":1,"padding":0,"labelColor":{"expr":"datum.label == '+ Arf6' ? '#f07a1e' : datum.label == '+ Arf14' ? '#1fd6ee' : '#22d022'"}}}}},
   {"data":{"name":"ttick"},"mark":{"type":"text","fontSize":16,"color":"#222","baseline":"top","dy":5},"encoding":{"x":{"field":"v","type":"quantitative"},"y":{"datum":-0.092},"text":{"field":"v","type":"quantitative","format":"d"}}},
   {"data":{"values":[{}]},"mark":{"type":"text","text":"−Arf","fontSize":13,"fontWeight":"bold","align":"left","color":"#111"},"encoding":{"x":{"datum":1.45},"y":{"datum":0.585}}},
   {"data":{"values":[{}]},"mark":{"type":"text","text":"//","fontSize":10,"color":"#777"},"encoding":{"x":{"datum":20},"y":{"datum":1.092}}},
   {"data":{"values":[{}]},"mark":{"type":"text","text":"//","fontSize":10,"color":"#777"},"encoding":{"x":{"datum":20},"y":{"datum":-0.092}}},
   {"data":{"values":[{}]},"mark":{"type":"text","text":"Time (s) x 10³","fontSize":22,"fontWeight":"bold","dy":42,"color":"#000"},"encoding":{"x":{"datum":4.81},"y":{"datum":-0.092}}},
   {"data":{"values":[{}]},"mark":{"type":"text","text":"c","font":"Liberation Serif","fontSize":26,"fontWeight":"bold","dx":32,"color":"#000"},"encoding":{"x":{"datum":102},"y":{"datum":0.908}}}
  ]},
  {"width":173,"height":141,"layer":[
   {"data":{"name":"bars"},"mark":{"type":"bar"},"encoding":{
     "x":{"field":"slot","type":"nominal","scale":{"domain":["t0 WT","_1","_2","Arf6 WT","Arf6 T95D","Arf6 S125E","Arf6 T95D/S125E","_7","_8","Arf14 WT","Arf14 T95D","Arf14 S125E","Arf14 T95D/S125E","_13","_14","_15","Arf37 WT","Arf37 T95D","Arf37 S125E","Arf37 T95D/S125E"],"paddingInner":0.08,"paddingOuter":1.5},"axis":null},
     "y":{"field":"v","type":"quantitative","scale":{"domain":[-0.02,1.15],"nice":false,"zero":false},"axis":{"title":null,"values":[0,0.5,1],"format":".1f","labelFontSize":18,"tickSize":4}},
     "color":{"field":"variant","type":"nominal","scale":{"domain":["WT","T95D","S125E","T95D/S125E"],"range":["#bdbdbd","#f07010","#22ddff","#11dd33"]},"legend":{"orient":"none","legendX":161,"legendY":26,"title":null,"symbolOpacity":0,"symbolSize":0,"labelOffset":0,"labelFontSize":15,"labelFontWeight":"bold","rowPadding":3,"padding":0,"labelLimit":0,"labelExpr":"datum.label == 'T95D/S125E' ? ['T95D/', 'S125E'] : datum.label","encode":{"labels":{"update":{"fill":{"signal":"datum.label == 'WT' ? '#8c8c8c' : datum.label == 'T95D' ? '#e0601a' : datum.label == 'S125E' ? '#1fc8f5' : '#1fbf3f'"}}}}}}}},
   {"data":{"name":"bars"},"mark":{"type":"rule","color":"#777","strokeWidth":1},"encoding":{"x":{"field":"slot","type":"nominal","axis":null},"y":{"field":"v","type":"quantitative"},"y2":{"field":"hi"}}},
   {"data":{"name":"bars"},"mark":{"type":"tick","color":"#777","thickness":1,"size":4,"orient":"horizontal"},"encoding":{"x":{"field":"slot","type":"nominal","axis":null},"y":{"field":"hi","type":"quantitative"}}},
   {"data":{"values":[{}]},"mark":{"type":"rule","color":"#333","strokeWidth":0.8},"encoding":{"y":{"datum":0}}},
   {"data":{"values":[{}]},"mark":{"type":"rule","color":"#8e5fd6","strokeWidth":1,"strokeDash":[2,2]},"encoding":{"y":{"datum":0.04}}},
   {"data":{"values":[{}]},"mark":{"type":"rule","color":"#8a4fc8","strokeWidth":1.5},"encoding":{"x":{"datum":"Arf6 WT","type":"nominal","axis":null},"x2":{"datum":"Arf37 T95D/S125E"},"y":{"datum":-0.099}}},
   {"data":{"values":[{}]},"mark":{"type":"rule","color":"#8a4fc8","strokeWidth":1.5},"encoding":{"x":{"datum":"Arf6 WT","type":"nominal","axis":null},"y":{"datum":-0.099},"y2":{"datum":-0.05}}},
   {"data":{"values":[{}]},"mark":{"type":"rule","color":"#8a4fc8","strokeWidth":1.5},"encoding":{"x":{"datum":"Arf37 T95D/S125E","type":"nominal","axis":null},"y":{"datum":-0.099},"y2":{"datum":-0.05}}},
   {"data":{"values":[{}]},"mark":{"type":"rule","color":"#8a4fc8","strokeWidth":1.5},"encoding":{"x":{"datum":"Arf14 S125E","type":"nominal","axis":null},"y":{"datum":-0.099},"y2":{"datum":-0.18}}},
   {"data":{"values":[{}]},"mark":{"type":"text","text":"Arf6","fontSize":17,"color":"#111","dy":-12},"encoding":{"x":{"datum":"Arf6 T95D","type":"nominal","axis":null},"y":{"datum":1.15}}},
   {"data":{"values":[{}]},"mark":{"type":"text","text":"Arf14","fontSize":17,"color":"#111","dy":-12},"encoding":{"x":{"datum":"Arf14 T95D","type":"nominal","axis":null},"y":{"datum":1.15}}},
   {"data":{"values":[{}]},"mark":{"type":"text","text":"Arf37","fontSize":17,"color":"#111","dy":-12,"dx":4},"encoding":{"x":{"datum":"Arf37 T95D","type":"nominal","axis":null},"y":{"datum":1.15}}},
   {"data":{"values":[{}]},"mark":{"type":"text","text":"t = 0 hr","fontSize":22,"fontWeight":"bold","fontStyle":"italic","angle":27,"color":"#000"},"encoding":{"x":{"datum":"Arf6 T95D","type":"nominal","axis":null},"y":{"datum":-0.28}}},
   {"data":{"values":[{}]},"mark":{"type":"text","text":"t = 24 hrs","fontSize":22,"fontWeight":"bold","fontStyle":"italic","angle":27,"color":"#000"},"encoding":{"x":{"datum":"Arf37 T95D","type":"nominal","axis":null},"y":{"datum":-0.35}}},
   {"data":{"values":[{}]},"mark":{"type":"text","text":"Normalized FRET","fontSize":27,"fontWeight":"bold","angle":270,"dy":-58,"color":"#000"},"encoding":{"x":{"datum":"t0 WT","type":"nominal","axis":null},"y":{"datum":1.275}}},
   {"data":{"values":[{}]},"mark":{"type":"text","text":"d","font":"Liberation Serif","fontSize":26,"fontWeight":"bold","dx":52,"color":"#000"},"encoding":{"x":{"datum":"Arf37 T95D/S125E","type":"nominal","axis":null},"y":{"datum":1.457}}}
  ]}
 ]}
]}
]
}
